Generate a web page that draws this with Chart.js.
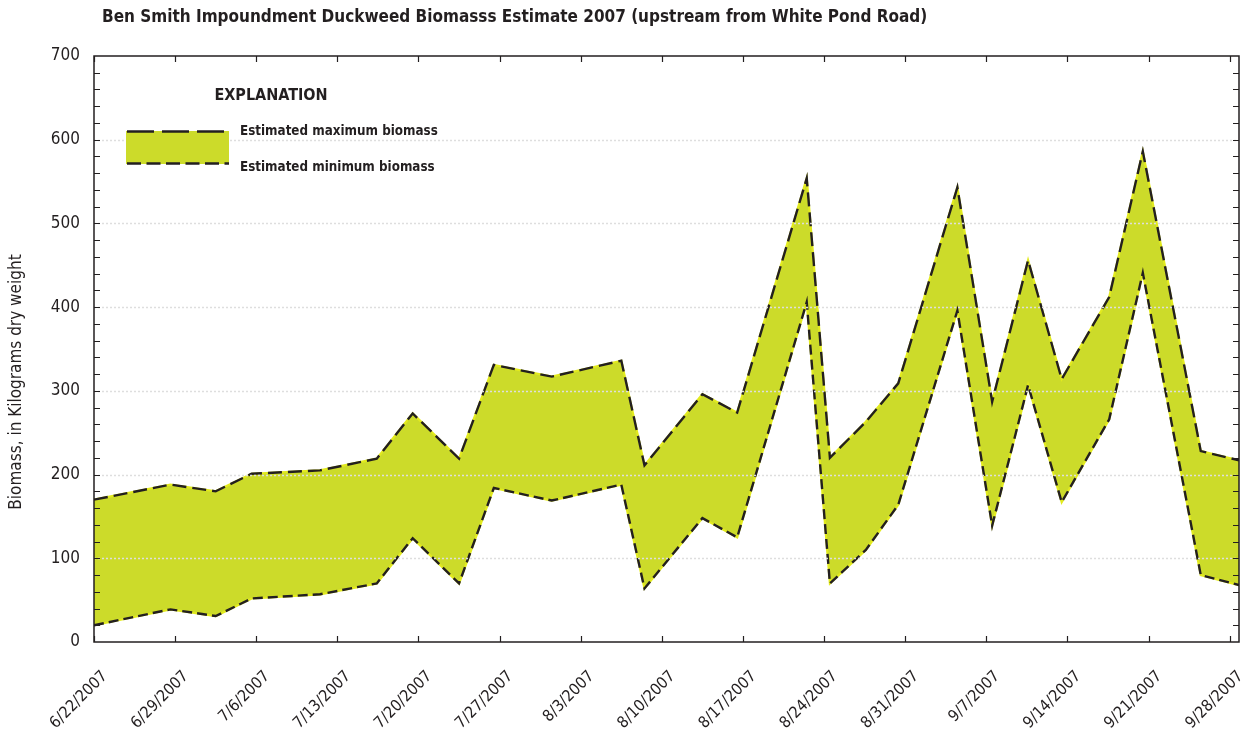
<!DOCTYPE html>
<html>
<head>
<meta charset="utf-8">
<script src="https://cdn.jsdelivr.net/npm/chart.js@4/dist/chart.umd.min.js"></script>
<style>
  html, body { margin: 0; padding: 0; background: #fff; }
  #wrap { width: 1249px; height: 736px; }
</style>
</head>
<body>
<div id="wrap"><canvas id="biomassChart" width="1249" height="736"></canvas></div>
<script>
// Ben Smith Impoundment duckweed biomass, 2007
// x values are days after 6/22/2007

const dayOffsets = [0, 6.6, 10.5, 13.6, 19.5, 24.4, 27.5, 31.5, 34.5, 39.5, 45.5, 47.5, 52.5,
    55.5, 61.5, 63.5, 66.6, 69.4, 74.5, 77.5, 80.6, 83.5, 87.6, 90.5, 95.5, 98.8];
const maxBiomass = [170, 188, 180, 201, 205, 219, 273, 219, 331, 317, 336, 211, 296,
    274, 554, 220, 263, 309, 543, 287, 456, 314, 412, 586, 228, 217];
const minBiomass = [20, 39, 31, 52, 57, 70, 124, 70, 184, 169, 188, 64, 148,
    125, 406, 70, 110, 164, 396, 139, 307, 167, 266, 441, 80, 68];
const dateLabels = ["6/22/2007", "6/29/2007", "7/6/2007", "7/13/2007", "7/20/2007", "7/27/2007",
    "8/3/2007", "8/10/2007", "8/17/2007", "8/24/2007", "8/31/2007", "9/7/2007", "9/14/2007",
    "9/21/2007", "9/28/2007"];

const titleText = "Ben Smith Impoundment Duckweed Biomasss Estimate 2007 (upstream from White Pond Road)";
const yAxisTitle = "Biomass, in Kilograms dry weight";
const legendTitle = "EXPLANATION";
const legendMax = "Estimated maximum biomass";
const legendMin = "Estimated minimum biomass";

const FONT = "'DejaVu Sans Condensed', 'Liberation Sans Narrow', sans-serif";
const INK = "#231f20";
const FILL = "#ccdb2a";
const GAP = "#e2ea1e";

const toPoints = vals => vals.map((v, i) => ({ x: dayOffsets[i], y: v }));

// frame, inward ticks, dotted grid, title and the legend box
const decorations = {
    id: "decorations",
    afterDatasetsDraw(chart) {
        const { ctx, chartArea: a, scales: { x, y } } = chart;
        ctx.save();

        // dotted grid lines on top of the fill
        ctx.strokeStyle = "#dedede";
        ctx.lineWidth = 1.5;
        ctx.setLineDash([2, 2]);
        for (let v = 100; v < 700; v += 100) {
            const py = Math.round(y.getPixelForValue(v)) + 0.5;
            ctx.beginPath();
            ctx.moveTo(a.left, py);
            ctx.lineTo(a.right, py);
            ctx.stroke();
        }
        ctx.setLineDash([]);

        // box
        ctx.strokeStyle = INK;
        ctx.lineWidth = 1.5;
        ctx.strokeRect(a.left, a.top, a.right - a.left, a.bottom - a.top);

        // minor y ticks every 20, both sides
        ctx.lineWidth = 1.2;
        for (let v = 20; v < 700; v += 20) {
            const py = Math.round(y.getPixelForValue(v)) + 0.5;
            ctx.beginPath();
            ctx.moveTo(a.left, py); ctx.lineTo(a.left + 6, py);
            ctx.moveTo(a.right, py); ctx.lineTo(a.right - 6, py);
            ctx.stroke();
        }
        // x ticks, top and bottom
        x.ticks.forEach(t => {
            const px = Math.round(x.getPixelForValue(t.value)) + 0.5;
            ctx.beginPath();
            ctx.moveTo(px, a.bottom); ctx.lineTo(px, a.bottom - 6);
            ctx.moveTo(px, a.top); ctx.lineTo(px, a.top + 6);
            ctx.stroke();
        });

        // title
        ctx.fillStyle = INK;
        ctx.font = "bold 17px " + FONT;
        ctx.textBaseline = "middle";
        ctx.textAlign = "left";
        ctx.fillText(titleText, 102, 18);

        // y axis title
        ctx.save();
        ctx.translate(17, 382);
        ctx.rotate(-Math.PI / 2);
        ctx.font = "17px " + FONT;
        ctx.textAlign = "center";
        ctx.fillText(yAxisTitle, 0, 0);
        ctx.restore();

        // legend
        ctx.font = "bold 16px " + FONT;
        ctx.textAlign = "center";
        ctx.fillText(legendTitle, 271, 96);
        ctx.fillStyle = FILL;
        ctx.fillRect(126, 131, 103, 33);
        ctx.strokeStyle = INK;
        ctx.lineWidth = 2.5;
        ctx.setLineDash([27, 8]);
        ctx.beginPath(); ctx.moveTo(127, 131.5); ctx.lineTo(229, 131.5); ctx.stroke();
        ctx.setLineDash([14, 5.5]);
        ctx.beginPath(); ctx.moveTo(127, 163.5); ctx.lineTo(229, 163.5); ctx.stroke();
        ctx.setLineDash([]);
        ctx.fillStyle = INK;
        ctx.font = "bold 13.3px " + FONT;
        ctx.textAlign = "left";
        ctx.fillText(legendMax, 240, 132);
        ctx.fillText(legendMin, 240, 168);

        ctx.restore();
    }
};

const ctx = document.getElementById("biomassChart").getContext("2d");

new Chart(ctx, {
    type: "line",
    data: {
        datasets: [
            {
                label: legendMax,
                data: toPoints(maxBiomass),
                borderColor: INK,
                borderWidth: 2.4,
                borderDash: [14, 6],
                backgroundColor: FILL,
                fill: 1,
                pointRadius: 0
            },
            {
                label: legendMin,
                data: toPoints(minBiomass),
                borderColor: INK,
                borderWidth: 2.4,
                borderDash: [10, 5],
                fill: false,
                pointRadius: 0
            },
            // solid yellow under the dashes, shows in the gaps
            {
                data: toPoints(maxBiomass),
                borderColor: GAP,
                borderWidth: 2.2,
                fill: false,
                pointRadius: 0
            },
            {
                data: toPoints(minBiomass),
                borderColor: GAP,
                borderWidth: 2.2,
                fill: false,
                pointRadius: 0
            }
        ]
    },
    options: {
        responsive: false,
        animation: false,
        devicePixelRatio: 1,
        layout: { padding: { left: 0, right: 10, top: 56, bottom: 0 } },
        elements: { line: { tension: 0 } },
        plugins: {
            legend: { display: false },
            title: { display: false },
            tooltip: { enabled: false },
            filler: { drawTime: "beforeDatasetsDraw" }
        },
        scales: {
            x: {
                type: "linear",
                min: 0,
                max: 98.8,
                grid: { display: false, drawTicks: false },
                border: { display: false },
                afterFit: s => {
                    s.height = 94;
                    s.paddingLeft = 0;
                    s.paddingRight = 0;
                },
                ticks: {
                    stepSize: 7,
                    includeBounds: false,
                    autoSkip: false,
                    minRotation: 45,
                    maxRotation: 45,
                    padding: 25,
                    labelOffset: 11,
                    color: INK,
                    font: { family: FONT, size: 16 },
                    callback: v => dateLabels[Math.round(v / 7)]
                }
            },
            y: {
                min: 0,
                max: 700,
                grid: { display: false, drawTicks: false },
                border: { display: false },
                afterFit: s => { s.width = 94; },
                ticks: {
                    stepSize: 100,
                    padding: 14,
                    color: INK,
                    font: { family: FONT, size: 17 }
                }
            }
        }
    },
    plugins: [decorations]
});
</script>
</body>
</html>
